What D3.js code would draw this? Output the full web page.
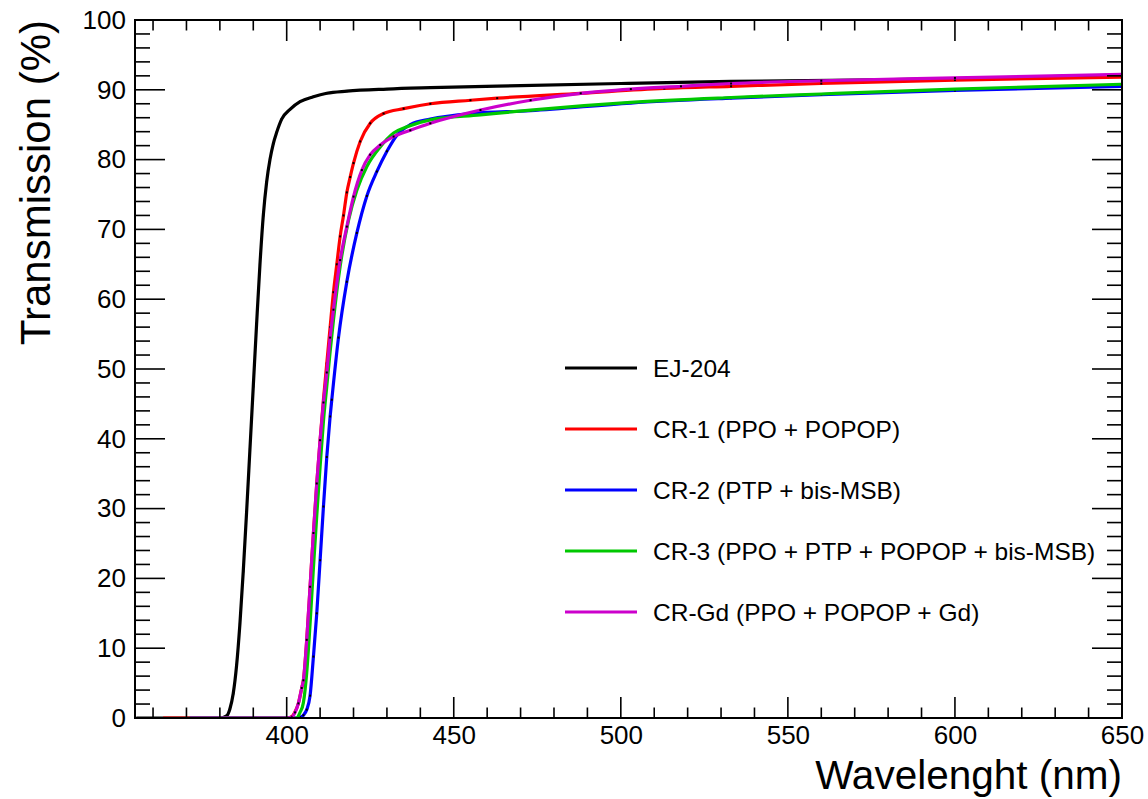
<!DOCTYPE html>
<html>
<head>
<meta charset="utf-8">
<script src="https://cdn.jsdelivr.net/npm/d3@7"></script>
<style>
  html, body { margin: 0; padding: 0; background: #fff; }
  svg { display: block; font-family: "Liberation Sans", Arial, Helvetica, sans-serif; }
</style>
</head>
<body>
<svg id="chart" width="1148" height="799"></svg>
<script>
// ---------------- DATA ----------------
const xTicks = [400, 450, 500, 550, 600, 650];
const yTicks = [0, 10, 20, 30, 40, 50, 60, 70, 80, 90, 100];

const wlEJ204 = [355, 370, 380, 382, 383, 384, 385, 386, 387, 388, 389, 390, 391, 392, 393, 394, 395, 396, 397, 398.5, 401, 404, 408, 412, 418, 430, 443, 470, 500, 533, 570, 600, 650];
const tEJ204  = [0, 0, 0, 0.3, 1.3, 3.5, 7.5, 13.5, 21, 29.5, 38.5, 47.5, 56.5, 65, 72, 76.8, 80, 82.3, 83.9, 85.8, 87.2, 88.3, 89.0, 89.5, 89.8, 90.1, 90.3, 90.6, 90.9, 91.2, 91.4, 91.6, 92.1];

const wlCR1 = [363, 370, 380, 390, 400, 401.5, 402.5, 403.5, 404.5, 405, 406, 407, 408, 409, 410, 411, 412, 413, 414, 415, 416, 417, 418, 419, 420, 422, 425, 429, 435, 443, 455, 463, 488, 513, 533, 560, 600, 650];
const tCR1  = [0, 0, 0, 0, 0, 0.2, 0.9, 2.1, 4.3, 5.4, 11.2, 18.8, 26.5, 33.6, 39.8, 45.6, 50.8, 56, 61, 65, 69, 72, 75.3, 77.5, 79.5, 82.6, 85.2, 86.6, 87.3, 88.0, 88.5, 88.8, 89.5, 90.2, 90.5, 90.9, 91.4, 91.8];

const wlCR2 = [371, 380, 390, 400, 403, 404, 405, 406, 407, 408, 409, 410, 411, 412, 413, 413.5, 415.5, 418, 421, 424, 427, 430, 433, 437, 443, 455, 473, 503, 533, 560, 600, 650];
const tCR2  = [0, 0, 0, 0, 0, 0.1, 0.4, 1.2, 3.2, 8.8, 15, 22.6, 30.3, 37.4, 43.2, 45.6, 54.5, 62.5, 69.5, 74.8, 78.3, 81.2, 83.5, 85.0, 85.8, 86.6, 87.0, 88.1, 88.8, 89.3, 89.9, 90.5];

const wlCR3 = [371, 380, 390, 400, 403, 404, 405, 406, 407, 408, 409, 410, 411, 412, 413, 414, 416, 418.5, 421, 424, 428, 432, 436, 443, 458, 473, 503, 533, 560, 600, 650];
const tCR3  = [0, 0, 0, 0, 0, 0.8, 2.2, 6.5, 13.5, 21.5, 29, 36, 42.5, 47.5, 52.5, 57, 64.7, 71.3, 75.6, 79, 81.8, 83.8, 84.7, 85.7, 86.4, 87.1, 88.2, 88.9, 89.4, 90.1, 90.8];

const wlCRGd = [371, 375, 380, 385, 390, 395, 400, 401.5, 402.5, 403.5, 404.5, 405, 406, 407, 408, 409, 410, 411, 412, 413, 414, 416, 418, 420, 422.5, 425, 428, 432, 437, 443, 458, 473, 488, 503, 518, 533, 560, 600, 650];
const tCRGd  = [0, 0, 0, 0, 0, 0, 0, 0.1, 0.8, 2.1, 4.3, 5.4, 11.2, 18.8, 26.5, 33.6, 39.8, 45.2, 49.5, 54.5, 58.5, 65.6, 70.4, 74.7, 78.5, 80.7, 82.1, 83.3, 84.2, 85.2, 87.1, 88.5, 89.5, 90.1, 90.5, 90.9, 91.3, 91.7, 92.2];

const seriesNames = ["EJ-204", "CR-1 (PPO + POPOP)", "CR-2 (PTP + bis-MSB)", "CR-3 (PPO + PTP + POPOP + bis-MSB)", "CR-Gd (PPO + POPOP + Gd)"];
const seriesColors = ["#000000", "#ff0000", "#0000ff", "#00c800", "#cc00cc"];
const seriesMarkers = [true, true, true, false, true];

const xLabel = "Wavelenght (nm)";
const yLabel = "Transmission (%)";

// ---------------- LAYOUT ----------------
const svg = d3.select("#chart");
const L = 135, R = 1122, T = 20, B = 718;

const x = d3.scaleLinear().domain([354.6, 650]).range([L, R]);
const y = d3.scaleLinear().domain([0, 100]).range([B, T]);

const series = [
  {wl: wlEJ204, t: tEJ204},
  {wl: wlCR1, t: tCR1},
  {wl: wlCR2, t: tCR2},
  {wl: wlCR3, t: tCR3},
  {wl: wlCRGd, t: tCRGd}
].map((s, i) => ({
  name: seriesNames[i], color: seriesColors[i], markers: seriesMarkers[i],
  pts: s.wl.map((w, j) => ({w, v: s.t[j]}))
}));

const clipId = "plotclip";
svg.append("defs").append("clipPath").attr("id", clipId)
  .append("rect").attr("x", L).attr("y", T).attr("width", R - L).attr("height", B - T);

const line = d3.line().x(d => x(d.w)).y(d => y(d.v)).curve(d3.curveMonotoneX);

const plot = svg.append("g").attr("clip-path", `url(#${clipId})`);
series.forEach(s => {
  plot.append("path").datum(s.pts)
    .attr("d", line).attr("fill", "none")
    .attr("stroke", s.color).attr("stroke-width", 3.2)
    .attr("stroke-linejoin", "round");
  if (s.markers) {
    plot.append("g").selectAll("rect").data(s.pts).join("rect")
      .attr("x", d => x(d.w) - 1).attr("y", d => y(d.v) - 1)
      .attr("width", 2).attr("height", 2).attr("fill", "#000");
  }
});

// ---------------- AXES ----------------
const xMinor = d3.range(360, 651, 10);
const yMinor = d3.range(0, 101, 2);

const xAxisB = d3.axisBottom(x).tickValues(xTicks).tickSize(0).tickPadding(8).tickFormat(d3.format("d"));
const gB = svg.append("g").attr("transform", `translate(0,${B})`).call(xAxisB);
gB.select(".domain").remove();
gB.selectAll("text").attr("font-size", 26).attr("fill", "#000").attr("font-family", "Liberation Sans, Arial, sans-serif");

const yAxisL = d3.axisLeft(y).tickValues(yTicks).tickSize(0).tickPadding(9).tickFormat(d3.format("d"));
const gL = svg.append("g").attr("transform", `translate(${L},0)`).call(yAxisL);
gL.select(".domain").remove();
gL.selectAll("text").attr("font-size", 26).attr("fill", "#000").attr("font-family", "Liberation Sans, Arial, sans-serif");

const ticks = svg.append("g").attr("stroke", "#000").attr("stroke-width", 1.6);
xMinor.forEach(v => {
  const major = xTicks.includes(v);
  const len = major ? 21 : 10.5;
  ticks.append("line").attr("x1", x(v)).attr("x2", x(v)).attr("y1", B).attr("y2", B - len);
  ticks.append("line").attr("x1", x(v)).attr("x2", x(v)).attr("y1", T).attr("y2", T + len);
});
yMinor.forEach(v => {
  const major = yTicks.includes(v);
  const len = major ? 30 : 15;
  ticks.append("line").attr("y1", y(v)).attr("y2", y(v)).attr("x1", L).attr("x2", L + len);
  ticks.append("line").attr("y1", y(v)).attr("y2", y(v)).attr("x1", R).attr("x2", R - len);
});

svg.append("rect").attr("x", L).attr("y", T).attr("width", R - L).attr("height", B - T)
  .attr("fill", "none").attr("stroke", "#000").attr("stroke-width", 2);

// axis titles
svg.append("text").attr("x", R).attr("y", 789).attr("text-anchor", "end")
  .attr("font-size", 40.5).attr("fill", "#000").text(xLabel);
svg.append("text").attr("transform", `translate(50,${T}) rotate(-90)`).attr("text-anchor", "end")
  .attr("font-size", 42).attr("fill", "#000").text(yLabel);

// ---------------- LEGEND ----------------
const legY = d3.scaleLinear().domain([0, 4]).range([368, 612]);
const leg = svg.append("g");
series.forEach((s, i) => {
  leg.append("line").attr("x1", 565).attr("x2", 637).attr("y1", legY(i)).attr("y2", legY(i))
    .attr("stroke", s.color).attr("stroke-width", 3.2);
  leg.append("text").attr("x", 653).attr("y", legY(i)).attr("dy", "0.35em")
    .attr("font-size", 24.5).attr("fill", "#000").text(s.name);
});
</script>
</body>
</html>
